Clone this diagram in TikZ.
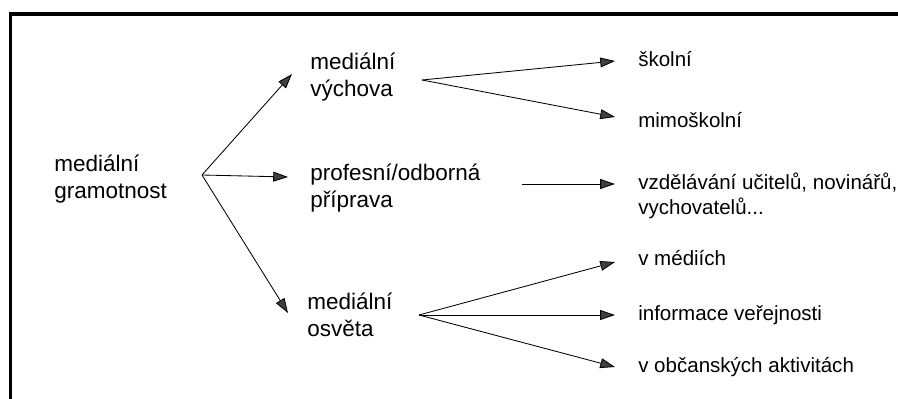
\documentclass[tikz,border=0pt]{standalone}
\usepackage{fontspec}
\setmainfont{Liberation Sans}
\usetikzlibrary{positioning}
\usetikzlibrary{arrows.meta}
\usetikzlibrary{calc}

\begin{document}
\begin{tikzpicture}[x=0.025cm, y=-0.025cm,
        txt/.style={anchor=west, inner sep=0pt, align=left, font=\fontsize{16}{19.2}\selectfont},
        leaf/.style={txt, font=\fontsize{14.6}{17.4}\selectfont},
        arr/.style={line width=0.6pt, -{Triangle[length=10.5pt, width=7pt, fill=black!75]}}]
                \useasboundingbox (0,0) rectangle (898,399);
                % Frame
                \draw[line width=2.8pt] (898,14) -- (10.5,14) -- (10.5,399);

                % Define the nodes
                \node[txt] (gram) at (54,179) {mediální\\gramotnost};
                \node[txt] (vych) at (310,77) {mediální\\výchova};
                \node[txt] (prof) at (310,188) {profesní/odborná\\příprava};
                \node[txt] (osv) at (307,315) {mediální\\osvěta};
                \node[leaf] (skol) at (638,59) {školní};
                \node[leaf] (mimo) at (638,120) {mimoškolní};
                \node[leaf] (vzd) at (638,196) {vzdělávání učitelů, novinářů,\\vychovatelů...};
                \node[leaf] (med) at (638,258) {v médiích};
                \node[leaf] (inf) at (638,315) {informace veřejnosti};
                \node[leaf] (obc) at (638,367) {v občanských aktivitách};

                % Define the coordinates of the forks
                \coordinate (gfork) at (202,175);
                \coordinate (vfork) at (422,80);
                \coordinate (pstart) at (522,184);
                \coordinate (ofork) at (419,315);

                \draw[arr] (gfork) -- ($(vych.west)+(-18,-3)$);
                \draw[arr] (gfork) -- ($(prof.west)+(-22,-11)$);
                \draw[arr] (gfork) -- ($(osv.west)+(-19,-2)$);

                \foreach \target/\dy in {skol/2, mimo/-3}
                    \draw[arr] (vfork) -- ($(\target.west)+(-23,\dy)$);
                \draw[arr] (pstart) -- ($(vzd.west)+(-23,-12)$);
                \foreach \target/\dy in {med/4, inf/0, obc/0}
                    \draw[arr] (ofork) -- ($(\target.west)+(-23,\dy)$);

            \end{tikzpicture}
\end{document}
